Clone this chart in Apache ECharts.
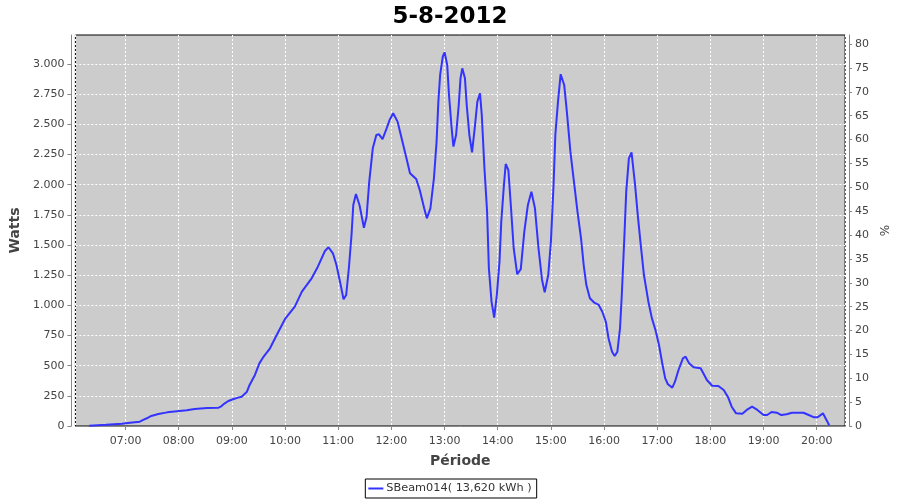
<!DOCTYPE html>
<html>
<head>
<meta charset="utf-8">
<script src="https://cdn.jsdelivr.net/npm/echarts@6/dist/echarts.min.js"></script>
<style>html,body{margin:0;padding:0;background:#fff}#c{width:900px;height:500px}</style>
</head>
<body>
<div id="c"></div>
<script>
var title = '5-8-2012';
var seriesName = 'SBeam014( 13,620 kWh )';
var times = ['06:19','06:38','06:56','07:05','07:16','07:20','07:24','07:29','07:37','07:47','07:58','08:09','08:18','08:32','08:45','08:48','08:52','08:56','09:02','09:07','09:11','09:17','09:20','09:26','09:31','09:35','09:43','09:50','10:00','10:11','10:19','10:30','10:37','10:45','10:49','10:54','10:58','11:02','11:06','11:09','11:12','11:15','11:17','11:20','11:24','11:29','11:32','11:35','11:39','11:43','11:46','11:50','11:54','11:58','12:02','12:07','12:12','12:17','12:21','12:28','12:32','12:37','12:40','12:44','12:48','12:51','12:53','12:55','12:58','13:00','13:03','13:05','13:08','13:10','13:13','13:16','13:18','13:20','13:23','13:25','13:28','13:31','13:34','13:37','13:40','13:42','13:45','13:48','13:50','13:53','13:56','13:59','14:02','14:04','14:07','14:09','14:12','14:15','14:18','14:22','14:26','14:30','14:34','14:38','14:42','14:46','14:50','14:53','14:57','15:00','15:03','15:05','15:08','15:11','15:15','15:18','15:22','15:26','15:30','15:34','15:37','15:40','15:44','15:49','15:54','15:58','16:02','16:05','16:09','16:12','16:15','16:18','16:20','16:23','16:25','16:28','16:31','16:33','16:35','16:38','16:41','16:45','16:50','16:54','16:58','17:02','17:06','17:09','17:12','17:17','17:20','17:24','17:29','17:32','17:36','17:41','17:49','17:52','17:56','18:02','18:09','18:15','18:20','18:24','18:29','18:36','18:41','18:47','18:53','19:00','19:04','19:09','19:15','19:20','19:26','19:32','19:45','19:51','19:57','20:01','20:07','20:09','20:12','20:14'];
var watts = [2,10,19,27,36,50,64,83,99,113,122,130,141,149,152,163,188,207,224,235,243,284,340,423,519,566,644,746,887,989,1113,1224,1320,1450,1481,1431,1334,1196,1050,1086,1307,1583,1831,1923,1831,1643,1734,2025,2301,2411,2417,2378,2453,2536,2591,2522,2370,2218,2094,2047,1956,1804,1721,1804,2053,2356,2688,2909,3060,3097,2992,2743,2467,2315,2411,2660,2881,2964,2881,2660,2411,2268,2467,2688,2757,2577,2136,1776,1307,1030,898,1086,1362,1693,1997,2171,2121,1804,1473,1257,1300,1610,1831,1942,1804,1473,1210,1108,1251,1527,1997,2411,2688,2915,2826,2605,2273,2025,1776,1555,1334,1168,1058,1022,1003,947,864,727,616,580,616,810,1086,1583,1942,2218,2268,2273,1997,1749,1527,1251,1030,892,796,671,505,395,346,318,367,464,561,574,519,486,478,437,381,334,331,298,238,160,105,102,133,160,133,91,91,116,110,91,97,110,110,91,72,72,105,91,36,6];
var wattTicks = [0,250,500,750,1000,1250,1500,1750,2000,2250,2500,2750,3000];
var pctTicks = [0,5,10,15,20,25,30,35,40,45,50,55,60,65,70,75,80];

function ts(hm){var p=hm.split(':');return new Date(2012,4,8,+p[0],+p[1]).getTime();}
function fmtW(v){var s=String(Math.round(v));return s.length>3?s.slice(0,s.length-3)+'.'+s.slice(-3):s;}
function pad(n){return (n<10?'0':'')+n;}

var data = times.map(function(t,i){return [ts(t), watts[i]];});
var font = 'DejaVu Sans';
var chart = echarts.init(document.getElementById('c'), null, {renderer:'canvas'});
chart.setOption({
  animation:false,
  backgroundColor:'#fff',
  title:{text:title,left:'center',top:1,textStyle:{fontFamily:font,fontWeight:'bold',fontSize:23,color:'#000'}},
  grid:{left:75,top:35,width:771,height:391,show:true,backgroundColor:'#cccccc',borderColor:'#000',borderWidth:1},
  legend:{bottom:2,left:'center',data:[seriesName],icon:'rect',itemWidth:15,itemHeight:2,borderColor:'#000',borderWidth:1,borderRadius:0,padding:[4,5,4,3],itemGap:4,
    textStyle:{fontFamily:font,fontSize:11.3,color:'#333',padding:[0,0,0,-2]}},
  xAxis:{type:'time',min:ts('06:03')+24000,max:ts('20:32'),offset:4,minInterval:3600000,maxInterval:3600000,
    name:'Période',nameLocation:'middle',nameGap:24,nameTextStyle:{fontFamily:font,fontSize:14,fontWeight:'bold',color:'#444'},
    axisLine:{lineStyle:{color:'#888',width:1}},axisTick:{length:4,lineStyle:{color:'#888'}},
    axisLabel:{showMinLabel:false,showMaxLabel:false,margin:6,fontFamily:font,fontSize:11,color:'#444',
      formatter:function(v){var d=new Date(v);return pad(d.getHours())+':'+pad(d.getMinutes());}},
    splitLine:{show:true,lineStyle:{color:'#fff',type:[2,2],width:1}}},
  yAxis:[
    {type:'value',min:0,max:3240,offset:4,name:'Watts',nameLocation:'middle',nameGap:45,nameTextStyle:{fontFamily:font,fontSize:14,fontWeight:'bold',color:'#444'},
      axisLine:{show:true,lineStyle:{color:'#888'}},axisTick:{show:true,length:4,lineStyle:{color:'#888'},customValues:wattTicks},
      axisLabel:{customValues:wattTicks,margin:7,fontFamily:font,fontSize:11,color:'#444',formatter:fmtW},
      splitLine:{show:true,lineStyle:{color:'#fff',type:[2,2],width:1}}},
    {type:'value',min:0,max:81.9,position:'right',offset:4,name:'%',nameLocation:'middle',nameGap:26,nameTextStyle:{fontFamily:font,fontSize:12,color:'#444'},
      axisLine:{show:true,lineStyle:{color:'#888'}},axisTick:{show:true,length:3,lineStyle:{color:'#888'},customValues:pctTicks},
      axisLabel:{customValues:pctTicks,margin:6,fontFamily:font,fontSize:11,color:'#444'},
      splitLine:{show:false}}
  ],
  series:[{name:seriesName,type:'line',data:data,showSymbol:false,symbol:'none',lineStyle:{color:'#3333ff',width:2},itemStyle:{color:'#3333ff'},z:5}]
});
</script>
</body>
</html>
